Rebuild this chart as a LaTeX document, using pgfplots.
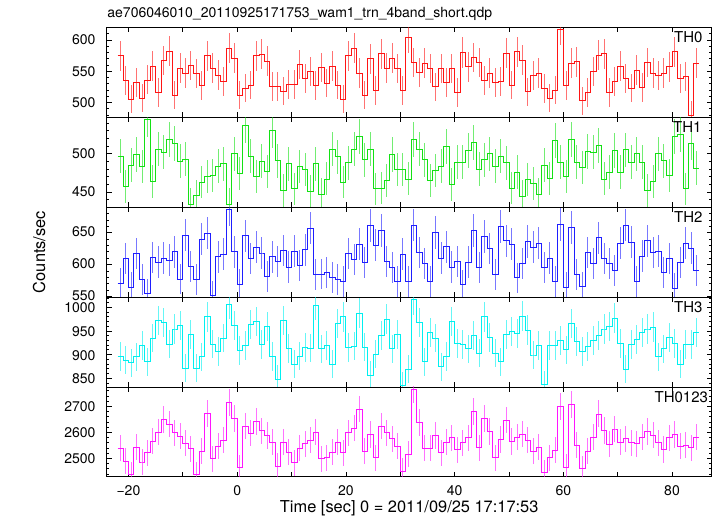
\documentclass[border=0pt]{standalone}
\usepackage{pgfplots}
\pgfplotsset{compat=1.18}
\usepackage{pgfplotstable}
\usepgfplotslibrary{groupplots}
\usepackage{fontspec}
\setmainfont{TeX Gyre Heros}
\definecolor{cA}{RGB}{255,20,20}
\definecolor{cB}{RGB}{20,225,20}
\definecolor{cC}{RGB}{30,30,255}
\definecolor{cD}{RGB}{0,240,240}
\definecolor{cE}{RGB}{255,20,255}
\pgfplotstableread{
t a b c d e
-21.5 575 497 571 896 2540
-20.5 535 457 609 888 2490
-19.5 505 485 564 883 2438
-18.5 532 499 617 895 2543
-17.5 507 483 576 919 2486
-16.5 536 545 554 885 2522
-15.5 558 464 611 935 2566
-14.5 516 506 604 972 2601
-13.5 567 502 610 968 2649
-12.5 582 519 607 922 2632
-11.5 512 513 620 954 2598
-10.5 555 490 577 961 2585
-9.5 547 493 646 871 2559
-8.5 559 434 597 943 2537
-7.5 546 445 576 871 2438
-6.5 527 463 640 895 2527
-5.5 575 470 649 980 2673
-4.5 555 471 551 922 2499
-3.5 544 484 612 906 2547
-2.5 533 487 616 935 2571
-1.5 587 434 687 1007 2715
-0.5 571 500 620 961 2652
0.5 512 474 569 909 2464
1.5 523 537 645 919 2624
2.5 528 497 609 963 2597
3.5 575 470 627 970 2641
4.5 577 490 618 921 2606
5.5 566 477 581 959 2588
6.5 526 530 612 896 2562
7.5 526 491 605 848 2469
8.5 518 452 622 972 2562
9.5 529 487 596 913 2524
10.5 529 454 621 880 2483
11.5 561 483 598 897 2540
12.5 539 479 623 915 2556
13.5 549 451 657 914 2571
14.5 527 487 584 1004 2601
15.5 556 447 585 912 2499
16.5 531 467 587 919 2503
17.5 558 506 580 880 2524
18.5 528 496 576 965 2562
19.5 505 463 573 980 2522
20.5 575 488 617 915 2598
21.5 587 506 608 918 2617
22.5 547 523 632 988 2690
23.5 512 492 603 916 2527
24.5 570 506 661 856 2592
25.5 519 454 630 901 2503
26.5 578 455 653 940 2624
27.5 555 465 605 975 2598
28.5 571 499 595 912 2575
29.5 554 479 573 942 2547
30.5 519 479 616 835 2450
31.5 604 467 573 869 2515
32.5 564 519 662 1016 2766
33.5 548 506 619 968 2639
34.5 563 492 601 885 2540
35.5 554 465 573 947 2540
36.5 525 478 650 935 2588
37.5 554 484 610 874 2522
38.5 532 509 628 896 2562
39.5 554 460 596 970 2579
40.5 516 489 605 924 2533
41.5 580 489 568 921 2560
42.5 557 504 604 912 2579
43.5 572 515 653 941 2681
44.5 564 480 595 903 2541
45.5 535 492 644 980 2652
46.5 547 500 625 936 2604
47.5 532 484 584 903 2503
48.5 533 497 659 885 2573
49.5 579 488 637 943 2648
50.5 528 455 632 949 2565
51.5 581 476 579 945 2582
52.5 568 444 602 981 2594
53.5 517 466 636 952 2571
54.5 543 461 627 899 2528
55.5 547 447 633 919 2543
56.5 522 485 595 837 2445
57.5 507 468 610 919 2503
58.5 520 517 573 919 2531
59.5 617 489 663 929 2700
60.5 527 470 564 910 2467
61.5 563 519 658 966 2706
62.5 565 489 584 928 2550
63.5 503 482 565 906 2461
64.5 516 503 619 917 2528
65.5 549 502 602 929 2582
66.5 576 511 642 941 2671
67.5 578 467 609 954 2607
68.5 516 476 601 959 2554
69.5 533 504 591 977 2613
70.5 558 476 633 924 2562
71.5 539 505 662 869 2575
72.5 523 489 635 921 2560
73.5 552 500 573 931 2556
74.5 524 489 613 947 2582
75.5 564 452 637 954 2603
76.5 547 464 619 958 2590
77.5 543 500 621 895 2560
78.5 547 491 588 912 2534
79.5 557 471 609 936 2579
80.5 581 522 563 924 2592
81.5 539 525 603 880 2547
82.5 541 454 633 921 2550
83.5 480 514 626 921 2541
84.5 563 481 590 946 2582
}\datatable
\begin{document}
\begin{tikzpicture}
\begin{groupplot}[
  group style={group size=1 by 5, vertical sep=0pt, x descriptions at=edge bottom},
  scale only axis, width=605pt, height=89.9pt,
  xmin=-24, xmax=87.3,
  xtick={-20,-10,...,80},
  xticklabels={−20,,0,,20,,40,,60,,80},
  scaled ticks=false,
  /pgf/number format/assume math mode=true,
  /pgf/number format/1000 sep={},
  tick label style={font=\fontsize{14}{16}\selectfont},
  yticklabel style={anchor=east, inner sep=0pt, xshift=-11pt},
  xticklabel style={anchor=base, inner sep=0pt, yshift=-18.3pt},
  axis line style={line width=0.8pt},
  major tick length=5pt, minor tick length=2.7pt,
  major tick style={line width=0.7pt, black},
  minor tick style={line width=0.6pt, black},
  clip=true,
]
% TH0
\nextgroupplot[ymin=476.4, ymax=620.3, ytick={500,550,600}, minor ytick={480,490,...,620}]
\coordinate (TL) at (rel axis cs:0,1);
\addplot[draw=none, mark=none, forget plot, error bars/.cd, y dir=both, y explicit, error mark=none, error bar style={draw=cA, opacity=0.6, line width=1pt}] table[x=t, y=a, y error expr=sqrt(\thisrow{a})]{\datatable};
\addplot[cA, line width=0.8pt, const plot mark mid] table[x=t, y=a]{\datatable};
\addplot[cA, line width=0.8pt] coordinates {(-22,575)(-21.5,575)};
\addplot[cA, line width=0.8pt] coordinates {(84.5,563)(85,563)};
\node[anchor=north east, inner sep=0pt, font=\fontsize{15}{17}\selectfont, xshift=-9pt, yshift=-4.5pt] at (rel axis cs:1,1) {TH0};
% TH1
\nextgroupplot[ymin=430.2, ymax=547.6, ytick={450,500}, minor ytick={440,450,...,540}]
\addplot[draw=none, mark=none, forget plot, error bars/.cd, y dir=both, y explicit, error mark=none, error bar style={draw=cB, opacity=0.6, line width=1pt}] table[x=t, y=b, y error expr=sqrt(\thisrow{b})]{\datatable};
\addplot[cB, line width=0.8pt, const plot mark mid] table[x=t, y=b]{\datatable};
\addplot[cB, line width=0.8pt] coordinates {(-22,497)(-21.5,497)};
\addplot[cB, line width=0.8pt] coordinates {(84.5,481)(85,481)};
\node[anchor=north east, inner sep=0pt, font=\fontsize{15}{17}\selectfont, xshift=-10pt, yshift=-4.5pt] at (rel axis cs:1,1) {TH1};
% TH2
\nextgroupplot[ymin=549, ymax=690, ytick={550,600,650}, minor ytick={550,560,...,690}, yticklabel style={yshift=1pt}]
\addplot[draw=none, mark=none, forget plot, error bars/.cd, y dir=both, y explicit, error mark=none, error bar style={draw=cC, opacity=0.6, line width=1pt}] table[x=t, y=c, y error expr=sqrt(\thisrow{c})]{\datatable};
\addplot[cC, line width=0.8pt, const plot mark mid] table[x=t, y=c]{\datatable};
\addplot[cC, line width=0.8pt] coordinates {(-22,571)(-21.5,571)};
\addplot[cC, line width=0.8pt] coordinates {(84.5,590)(85,590)};
\node[anchor=north east, inner sep=0pt, font=\fontsize{15}{17}\selectfont, xshift=-9pt, yshift=-4.5pt] at (rel axis cs:1,1) {TH2};
% TH3
\nextgroupplot[ymin=831.5, ymax=1021.7, ytick={850,900,950,1000}, minor ytick={840,850,...,1020}, yticklabel style={yshift=-0.8pt}]
\addplot[draw=none, mark=none, forget plot, error bars/.cd, y dir=both, y explicit, error mark=none, error bar style={draw=cD, opacity=0.6, line width=1pt}] table[x=t, y=d, y error expr=sqrt(\thisrow{d})]{\datatable};
\addplot[cD, line width=0.8pt, const plot mark mid] table[x=t, y=d]{\datatable};
\addplot[cD, line width=0.8pt] coordinates {(-22,896)(-21.5,896)};
\addplot[cD, line width=0.8pt] coordinates {(84.5,946)(85,946)};
\node[anchor=north east, inner sep=0pt, font=\fontsize{15}{17}\selectfont, xshift=-9pt, yshift=-4.5pt] at (rel axis cs:1,1) {TH3};
% TH0123
\nextgroupplot[ymin=2429, ymax=2775, ytick={2500,2600,2700}, minor ytick={2440,2460,...,2760}]
\coordinate (BR) at (rel axis cs:1,0);
\addplot[draw=none, mark=none, forget plot, error bars/.cd, y dir=both, y explicit, error mark=none, error bar style={draw=cE, opacity=0.6, line width=1pt}] table[x=t, y=e, y error expr=sqrt(\thisrow{e})]{\datatable};
\addplot[cE, line width=0.8pt, const plot mark mid] table[x=t, y=e]{\datatable};
\addplot[cE, line width=0.8pt] coordinates {(-22,2540)(-21.5,2540)};
\addplot[cE, line width=0.8pt] coordinates {(84.5,2582)(85,2582)};
\node[anchor=north east, inner sep=0pt, font=\fontsize{15}{17}\selectfont, xshift=-3.5pt, yshift=-4.5pt] at (rel axis cs:1,1) {TH0123};
\end{groupplot}
\node[anchor=base west, inner sep=0pt, font=\fontsize{14}{16}\selectfont] at ([xshift=0.5pt, yshift=9.5pt]TL) {ae706046010\_20110925171753\_wam1\_trn\_4band\_short.qdp};
\node[anchor=base, inner sep=0pt, font=\fontsize{16.4}{18}\selectfont] at ([xshift=-302.5pt, yshift=-35.3pt]BR) {Time [sec] 0 = 2011/09/25 17:17:53};
\node[anchor=base, rotate=90, inner sep=0pt, font=\fontsize{16.4}{18}\selectfont] at ([xshift=-61.5pt, yshift=-224.7pt]TL) {Counts/sec};
\pgfresetboundingbox
\path[use as bounding box] ([xshift=-106.7pt, yshift=27.3pt]TL) rectangle ([xshift=5.3pt, yshift=-39.3pt]BR);
\end{tikzpicture}
\end{document}
